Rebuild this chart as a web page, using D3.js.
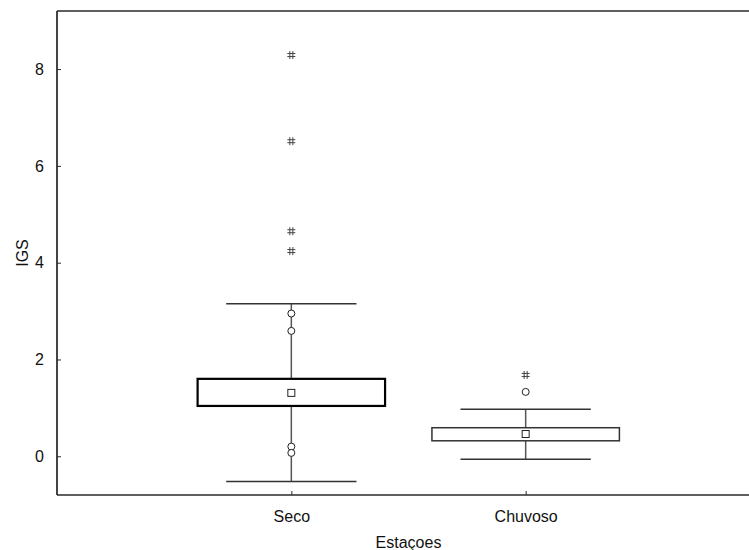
<!DOCTYPE html>
<html>
<head>
<meta charset="utf-8">
<script src="https://cdn.jsdelivr.net/npm/d3@7"></script>
<style>
  html, body { margin: 0; padding: 0; background: #fff; }
  svg { display: block; font-family: "Liberation Sans", Arial, sans-serif; }
</style>
</head>
<body>
<svg id="chart" width="749" height="550"></svg>
<script>
// Seasonal IGS summary per station category
const categories = ["Seco", "Chuvoso"];
const boxHigh = [1.60, 0.59];
const boxLow = [1.04, 0.32];
const means = [1.31, 0.46];
const whiskerHigh = [3.15, 0.97];
const whiskerLow = [-0.52, -0.06];
const outliers = [[2.95, 2.59, 0.20, 0.07], [1.33]];
const extremes = [[8.29, 6.51, 4.65, 4.24], [1.68]];
const yTicks = [0, 2, 4, 6, 8];
const xTitle = "Estaçoes";
const yTitle = "IGS";

const svg = d3.select("#chart");
const plot = { left: 57, right: 760, top: 11, bottom: 495 };

const x = d3.scalePoint().domain(categories).range([plot.left, plot.right]).padding(1);
const y = d3.scaleLinear().domain([-0.8, 9.2]).range([plot.bottom, plot.top]);
const step = x.step();
const boxW = step * 0.8;
const capW = step * 0.556;

const axisColor = "#2a2a2a";

// frame lines: left, top, bottom
svg.append("line").attr("x1", plot.left).attr("x2", plot.left).attr("y1", plot.top).attr("y2", plot.bottom)
  .attr("stroke", "#444").attr("stroke-width", 2);
svg.append("line").attr("x1", plot.left).attr("x2", plot.right).attr("y1", plot.top).attr("y2", plot.top)
  .attr("stroke", axisColor).attr("stroke-width", 1.5);
svg.append("line").attr("x1", plot.left).attr("x2", plot.right).attr("y1", plot.bottom).attr("y2", plot.bottom)
  .attr("stroke", axisColor).attr("stroke-width", 1.5);

// y axis (ticks point inward)
const yAxis = d3.axisLeft(y).tickValues(yTicks).tickSize(-4).tickPadding(13).tickFormat(d3.format("d"));
const gy = svg.append("g").attr("transform", `translate(${plot.left},0)`).call(yAxis);
gy.select(".domain").remove();
gy.selectAll(".tick line").attr("stroke", axisColor);
gy.selectAll(".tick text").attr("font-size", 16).attr("fill", "#111")
  .attr("font-family", "Liberation Sans, Arial, sans-serif");

// x axis (ticks point inward)
const xAxis = d3.axisBottom(x).tickSize(-4).tickPadding(16);
const gx = svg.append("g").attr("transform", `translate(0,${plot.bottom})`).call(xAxis);
gx.select(".domain").remove();
gx.selectAll(".tick line").attr("stroke", axisColor);
gx.selectAll(".tick text").attr("font-size", 16).attr("fill", "#111")
  .attr("font-family", "Liberation Sans, Arial, sans-serif");

// axis titles
svg.append("text").attr("x", (plot.left + plot.right) / 2).attr("y", 548)
  .attr("text-anchor", "middle").attr("font-size", 16).attr("fill", "#111").text(xTitle);
svg.append("text").attr("transform", `translate(28,${(plot.top + plot.bottom) / 2}) rotate(-90)`)
  .attr("text-anchor", "middle").attr("font-size", 16).attr("fill", "#111").text(yTitle);

const boxStroke = [2.2, 1.5];
const boxColor = ["#000", "#333"];

categories.forEach((c, i) => {
  const cx = x(c);
  const g = svg.append("g");
  // whisker stem
  g.append("line").attr("x1", cx).attr("x2", cx)
    .attr("y1", y(whiskerHigh[i])).attr("y2", y(whiskerLow[i]))
    .attr("stroke", "#555").attr("stroke-width", 1.5);
  // whisker caps
  [whiskerHigh[i], whiskerLow[i]].forEach(v => {
    g.append("line").attr("x1", cx - capW / 2).attr("x2", cx + capW / 2)
      .attr("y1", y(v)).attr("y2", y(v))
      .attr("stroke", "#333").attr("stroke-width", 1.5);
  });
  // box
  g.append("rect").attr("x", cx - boxW / 2).attr("width", boxW)
    .attr("y", y(boxHigh[i])).attr("height", y(boxLow[i]) - y(boxHigh[i]))
    .attr("fill", "#fff").attr("stroke", boxColor[i]).attr("stroke-width", boxStroke[i]);
  // mean marker
  g.append("rect").attr("x", cx - 3.5).attr("y", y(means[i]) - 3.5)
    .attr("width", 7).attr("height", 7)
    .attr("fill", "#fff").attr("stroke", "#222").attr("stroke-width", 1);
  // outliers
  outliers[i].forEach(v => {
    g.append("circle").attr("cx", cx).attr("cy", y(v)).attr("r", 3.5)
      .attr("fill", "#fff").attr("stroke", "#222").attr("stroke-width", 1);
  });
  // extremes
  extremes[i].forEach(v => {
    const py = y(v), s = 4, o = 1.5;
    const p = `M${cx - o},${py - s}V${py + s}M${cx + o},${py - s}V${py + s}` +
              `M${cx - s},${py - o}H${cx + s}M${cx - s},${py + o}H${cx + s}`;
    g.append("path").attr("d", p).attr("stroke", "#444").attr("stroke-width", 1).attr("fill", "none");
  });
});
</script>
</body>
</html>
